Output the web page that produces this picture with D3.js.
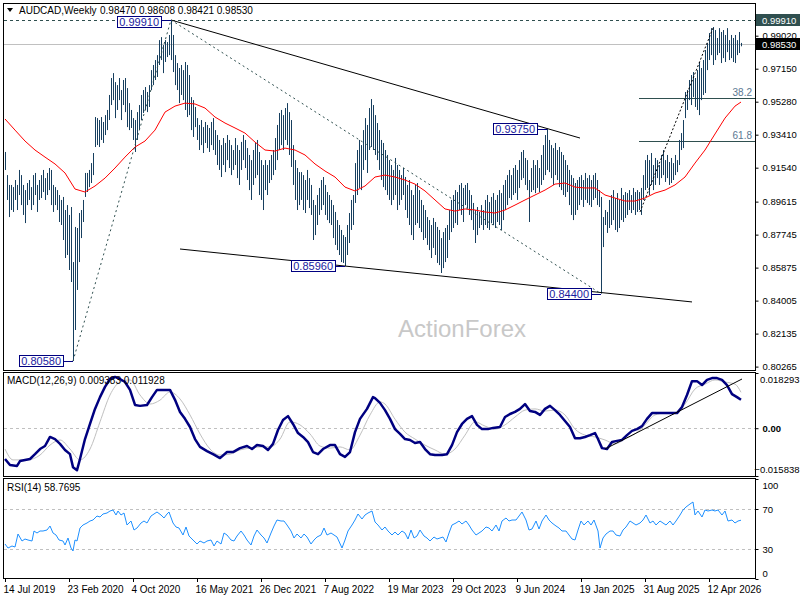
<!DOCTYPE html>
<html>
<head>
<meta charset="utf-8">
<script src="https://cdn.jsdelivr.net/npm/d3@7"></script>
<style>
body { margin: 0; background: #fff; }
svg text { font-family: "Liberation Sans", Arial, sans-serif; }
</style>
</head>
<body>
<script>
// weekly bars, week 0 = 14 Jul 2019
var barHigh = [
  0.9243,0.9112,0.9056,0.9056,0.9044,0.9084,0.9056,0.9141,0.9112,0.9056,
  0.9027,0.9067,0.9084,0.9044,0.9112,0.9124,0.9056,0.9084,0.9112,0.9141,
  0.9095,0.9124,0.9152,0.9141,0.9056,0.9044,0.9027,0.8999,0.8971,0.8988,
  0.8914,0.8942,0.8886,0.8931,0.8619,0.8818,0.8812,0.8897,0.8914,0.8971,
  0.9124,0.9124,0.9141,0.9180,0.9237,0.9441,0.9435,0.9424,0.9441,0.9413,
  0.9452,0.9481,0.9566,0.9662,0.9690,0.9639,0.9622,0.9662,0.9594,0.9651,
  0.9662,0.9605,0.9520,0.9481,0.9435,0.9424,0.9469,0.9509,0.9566,0.9594,
  0.9611,0.9583,0.9622,0.9707,0.9736,0.9764,0.9792,0.9877,0.9894,0.9849,
  0.9877,0.9866,0.9906,0.9991,0.9906,0.9792,0.9747,0.9719,0.9736,0.9707,
  0.9753,0.9736,0.9679,0.9554,0.9537,0.9498,0.9435,0.9396,0.9424,0.9384,
  0.9413,0.9396,0.9379,0.9413,0.9435,0.9367,0.9339,0.9311,0.9282,0.9322,
  0.9294,0.9339,0.9311,0.9282,0.9254,0.9322,0.9282,0.9254,0.9300,0.9339,
  0.9311,0.9265,0.9226,0.9197,0.9254,0.9294,0.9311,0.9243,0.9197,0.9169,
  0.9197,0.9169,0.9197,0.9226,0.9254,0.9322,0.9396,0.9464,0.9481,0.9452,
  0.9492,0.9520,0.9469,0.9424,0.9282,0.9197,0.9152,0.9129,0.9129,0.9112,
  0.9084,0.9141,0.9095,0.9056,0.8971,0.8942,0.8999,0.9039,0.9084,0.9101,
  0.9056,0.9016,0.8999,0.8971,0.8942,0.8903,0.8857,0.8829,0.8801,0.8772,
  0.8761,0.8829,0.8897,0.8971,0.8999,0.9180,0.9254,0.9311,0.9282,0.9367,
  0.9435,0.9396,0.9492,0.9543,0.9509,0.9452,0.9407,0.9367,0.9311,0.9294,
  0.9254,0.9226,0.9197,0.9169,0.9141,0.9209,0.9169,0.9141,0.9112,0.9152,
  0.9101,0.9056,0.9084,0.9027,0.8999,0.9056,0.9067,0.9027,0.8971,0.8942,
  0.8914,0.8874,0.8857,0.8829,0.8869,0.8846,0.8818,0.8801,0.8755,0.8789,
  0.8812,0.8829,0.8914,0.8971,0.8999,0.9027,0.9016,0.9056,0.9067,0.9039,
  0.9056,0.9067,0.9027,0.8999,0.8954,0.8914,0.8931,0.8903,0.8942,0.8914,
  0.8971,0.8999,0.8959,0.8988,0.9010,0.8971,0.8999,0.9027,0.9010,0.9056,
  0.9084,0.9112,0.9141,0.9112,0.9152,0.9169,0.9141,0.9197,0.9243,0.9254,
  0.9209,0.9197,0.9084,0.9152,0.9197,0.9169,0.9197,0.9152,0.9226,0.9282,
  0.9339,0.9375,0.9311,0.9282,0.9265,0.9294,0.9254,0.9271,0.9243,0.9226,
  0.9197,0.9169,0.9141,0.9112,0.9095,0.9067,0.9084,0.9101,0.9112,0.9084,
  0.9124,0.9095,0.9112,0.9084,0.9112,0.9124,0.9084,0.9027,0.8988,0.8874,
  0.8914,0.8903,0.8971,0.8999,0.9027,0.8982,0.9010,0.8971,0.9039,0.8999,
  0.9016,0.9010,0.9027,0.8999,0.9039,0.9016,0.9027,0.9016,0.9039,0.9112,
  0.9197,0.9226,0.9197,0.9237,0.9169,0.9209,0.9197,0.9169,0.9226,0.9254,
  0.9197,0.9226,0.9186,0.9209,0.9180,0.9226,0.9197,0.9311,0.9350,0.9424,
  0.9583,0.9594,0.9651,0.9679,0.9696,0.9662,0.9707,0.9753,0.9719,0.9764,
  0.9821,0.9860,0.9917,0.9945,0.9951,0.9934,0.9889,0.9945,0.9923,0.9934,
  0.9906,0.9945,0.9877,0.9906,0.9889,0.9906,0.9877,0.9923,0.9861
];
var barLow = [
  0.9141,0.8971,0.8874,0.8914,0.8903,0.8971,0.8914,0.8999,0.8942,0.8886,
  0.8840,0.8942,0.8971,0.8914,0.8942,0.8999,0.8903,0.8971,0.8982,0.9016,
  0.8971,0.8999,0.9027,0.8942,0.8903,0.8942,0.8914,0.8846,0.8829,0.8744,
  0.8642,0.8659,0.8574,0.8506,0.8058,0.8234,0.8461,0.8619,0.8755,0.8846,
  0.8988,0.9016,0.9044,0.9067,0.9112,0.9271,0.9282,0.9271,0.9311,0.9294,
  0.9339,0.9367,0.9424,0.9509,0.9537,0.9435,0.9481,0.9537,0.9424,0.9509,
  0.9469,0.9384,0.9367,0.9379,0.9311,0.9243,0.9311,0.9367,0.9424,0.9464,
  0.9481,0.9469,0.9498,0.9594,0.9622,0.9651,0.9668,0.9736,0.9764,0.9690,
  0.9753,0.9781,0.9792,0.9764,0.9696,0.9622,0.9594,0.9520,0.9566,0.9537,
  0.9481,0.9441,0.9452,0.9367,0.9328,0.9384,0.9311,0.9254,0.9282,0.9237,
  0.9294,0.9265,0.9243,0.9282,0.9254,0.9226,0.9169,0.9141,0.9101,0.9169,
  0.9129,0.9197,0.9152,0.9112,0.9141,0.9169,0.9095,0.9056,0.9141,0.9197,
  0.9152,0.9084,0.9027,0.8971,0.9056,0.9095,0.9112,0.8999,0.8971,0.8914,
  0.9027,0.8999,0.9067,0.9084,0.9112,0.9141,0.9197,0.9254,0.9282,0.9254,
  0.9311,0.9282,0.9226,0.9158,0.9056,0.8971,0.8914,0.8942,0.8971,0.8914,
  0.8897,0.8971,0.8925,0.8886,0.8744,0.8772,0.8829,0.8886,0.8914,0.8942,
  0.8886,0.8857,0.8840,0.8829,0.8755,0.8716,0.8687,0.8659,0.8619,0.8614,
  0.8596,0.8659,0.8727,0.8801,0.8829,0.8954,0.8999,0.9039,0.9027,0.9141,
  0.9197,0.9124,0.9254,0.9271,0.9254,0.9226,0.9197,0.9141,0.9084,0.9044,
  0.9027,0.8999,0.8971,0.8942,0.8971,0.8999,0.8914,0.8942,0.8971,0.8999,
  0.8914,0.8869,0.8829,0.8772,0.8744,0.8829,0.8840,0.8812,0.8789,0.8744,
  0.8755,0.8716,0.8687,0.8642,0.8699,0.8659,0.8614,0.8602,0.8557,0.8585,
  0.8619,0.8642,0.8744,0.8789,0.8812,0.8840,0.8829,0.8914,0.8886,0.8846,
  0.8942,0.8925,0.8886,0.8857,0.8801,0.8727,0.8772,0.8812,0.8829,0.8801,
  0.8829,0.8812,0.8801,0.8840,0.8829,0.8812,0.8846,0.8829,0.8801,0.8857,
  0.8914,0.8942,0.8982,0.8971,0.8999,0.9010,0.8971,0.9039,0.9084,0.9095,
  0.9056,0.9027,0.8846,0.9016,0.9027,0.9010,0.9039,0.9016,0.9056,0.9084,
  0.9112,0.9141,0.9129,0.9095,0.9056,0.9112,0.9084,0.9044,0.9027,0.8999,
  0.8988,0.9016,0.8942,0.8886,0.8857,0.8886,0.8914,0.8942,0.8971,0.8931,
  0.8971,0.8954,0.8942,0.8931,0.8971,0.8982,0.8942,0.8931,0.8440,0.8704,
  0.8829,0.8784,0.8812,0.8829,0.8857,0.8801,0.8789,0.8812,0.8857,0.8846,
  0.8869,0.8886,0.8914,0.8897,0.8914,0.8886,0.8903,0.8914,0.8886,0.8971,
  0.9027,0.9039,0.8999,0.9056,0.9027,0.9056,0.9095,0.9056,0.9095,0.9112,
  0.9073,0.9095,0.9056,0.9067,0.9084,0.9112,0.9129,0.9169,0.9254,0.9265,
  0.9435,0.9481,0.9537,0.9509,0.9554,0.9498,0.9481,0.9452,0.9537,0.9566,
  0.9577,0.9707,0.9764,0.9792,0.9736,0.9764,0.9792,0.9804,0.9747,0.9775,
  0.9753,0.9809,0.9764,0.9775,0.9753,0.9747,0.9792,0.9804,0.9842
];

// red moving average, [week, price]
var maLine = [
  [0,0.9430],[5,0.9367],[10,0.9305],[15,0.9254],[20,0.9214],[25,0.9175],[30,0.9124],[35,0.9033],
  [40,0.9016],[45,0.9050],[50,0.9095],[55,0.9152],[60,0.9214],[65,0.9271],[70,0.9305],[75,0.9367],
  [80,0.9469],[85,0.9503],[90,0.9520],[95,0.9515],[100,0.9492],[105,0.9441],[110,0.9407],[115,0.9379],
  [120,0.9350],[125,0.9299],[130,0.9254],[135,0.9248],[140,0.9265],[145,0.9254],[150,0.9226],[155,0.9175],
  [160,0.9135],[165,0.9101],[170,0.9044],[175,0.9022],[180,0.9050],[185,0.9101],[190,0.9112],[195,0.9101],
  [200,0.9084],[205,0.9061],[210,0.9022],[215,0.8971],[220,0.8920],[225,0.8908],[230,0.8920],[235,0.8914],
  [240,0.8903],[245,0.8897],[250,0.8914],[255,0.8942],[260,0.8971],[265,0.8999],[270,0.9027],[275,0.9061],
  [280,0.9067],[285,0.9044],[290,0.9039],[295,0.9039],[300,0.8999],[305,0.8982],[310,0.8965],[315,0.8965],
  [320,0.8982],[325,0.9010],[330,0.9027],[335,0.9056],[340,0.9101],[345,0.9180],[350,0.9254],[355,0.9345],
  [360,0.9435],[365,0.9503],[368,0.9526]
];

var macdLine = [
  [0,-0.0102],[2.5,-0.0122],[6,-0.0125],[7.5,-0.0109],[12.5,-0.0102],[15,-0.0086],[17.5,-0.0069],[20,-0.0059],
  [22.5,-0.0029],[25,-0.0036],[27.5,-0.0052],[30,-0.0072],[32.5,-0.0086],[34,-0.0129],[36,-0.0139],[37.5,-0.0102],
  [40,-0.0036],[42.5,0.0014],[45,0.0064],[47.5,0.0103],[50,0.0137],[52.5,0.0163],[55,0.0170],[57.5,0.0163],
  [60,0.0153],[62.5,0.0127],[65,0.0077],[67.5,0.0074],[71,0.0077],[73.5,0.0103],[76,0.0127],[79,0.0127],
  [82.5,0.0127],[85,0.0094],[87.5,0.0054],[90,0.0031],[92.5,0.0004],[95,-0.0036],[97.5,-0.0062],[101,-0.0076],
  [104,-0.0086],[107.5,-0.0099],[111,-0.0079],[114,-0.0079],[117.5,-0.0066],[121,-0.0059],[123.5,-0.0069],[126,-0.0056],
  [129,-0.0059],[131.5,-0.0072],[134,-0.0052],[136.5,-0.0006],[139,0.0027],[141.5,0.0040],[144,0.0014],[146.5,-0.0016],
  [149,-0.0029],[151.5,-0.0046],[154,-0.0079],[156.5,-0.0086],[159,-0.0069],[162.5,-0.0056],[165,-0.0056],[167.5,-0.0086],
  [170,-0.0095],[172.5,-0.0079],[175,-0.0013],[177.5,0.0031],[181,0.0064],[184,0.0103],[185,0.0100],[187.5,0.0084],
  [190,0.0060],[192.5,0.0031],[195,-0.0003],[197.5,-0.0019],[200,-0.0036],[202.5,-0.0039],[205,-0.0049],[207.5,-0.0046],
  [210,-0.0069],[212.5,-0.0086],[215,-0.0089],[218.5,-0.0089],[221,-0.0086],[223.5,-0.0056],[226,-0.0013],[228.5,0.0014],
  [231,0.0031],[233.5,0.0040],[236,0.0011],[238.5,-0.0003],[241.5,-0.0003],[244,0.0001],[247.5,0.0004],[250,0.0037],
  [252.5,0.0047],[255,0.0054],[257.5,0.0064],[260,0.0080],[262.5,0.0057],[265,0.0054],[267.5,0.0044],[270,0.0064],
  [272.5,0.0074],[275,0.0060],[277.5,0.0044],[280,0.0024],[282.5,0.0004],[285,-0.0033],[287.5,-0.0033],[290,-0.0029],
  [292.5,-0.0023],[295,-0.0016],[296.5,-0.0036],[298.5,-0.0066],[301,-0.0069],[303.5,-0.0046],[306,-0.0042],[308.5,-0.0039],
  [311,-0.0023],[313.5,-0.0009],[316,-0.0003],[318.5,0.0007],[321,0.0031],[323.5,0.0050],[326.5,0.0050],[330,0.0050],
  [333.5,0.0050],[336,0.0050],[338.5,0.0070],[341,0.0110],[343.5,0.0156],[346,0.0156],[348.5,0.0143],[351,0.0160],
  [353.5,0.0166],[356,0.0166],[358.5,0.0160],[361,0.0143],[363.5,0.0113],[366,0.0103],[368,0.0094]
];
var signalLine = [
  [0,-0.0069],[4,-0.0105],[11,-0.0105],[17.5,-0.0089],[22.5,-0.0056],[27.5,-0.0039],[32.5,-0.0069],[37.5,-0.0105],
  [42.5,-0.0069],[47.5,0.0021],[52.5,0.0110],[57.5,0.0153],[62.5,0.0160],[67.5,0.0110],[72.5,0.0080],[77.5,0.0093],
  [82.5,0.0120],[87.5,0.0097],[92.5,0.0044],[97.5,-0.0019],[102.5,-0.0069],[107.5,-0.0089],[112.5,-0.0086],[117.5,-0.0072],
  [122.5,-0.0066],[127.5,-0.0062],[132.5,-0.0062],[137.5,-0.0036],[142.5,0.0021],[147.5,0.0011],[152.5,-0.0019],[157.5,-0.0059],
  [162.5,-0.0066],[167.5,-0.0062],[172.5,-0.0072],[177.5,-0.0023],[182.5,0.0044],[187.5,0.0087],[190,0.0080],[195,0.0030],
  [200,-0.0013],[205,-0.0036],[210,-0.0056],[215,-0.0072],[220,-0.0086],[225,-0.0069],[230,-0.0023],[235,0.0021],
  [240,0.0007],[245,-0.0003],[250,0.0011],[255,0.0037],[260,0.0060],[265,0.0064],[270,0.0057],[275,0.0060],
  [280,0.0044],[285,-0.0003],[290,-0.0023],[295,-0.0029],[300,-0.0039],[305,-0.0052],[310,-0.0036],[315,-0.0019],
  [320,0.0011],[325,0.0044],[330,0.0050],[335,0.0050],[340,0.0080],[345,0.0130],[350,0.0146],[355,0.0160],
  [360,0.0153],[365,0.0146],[368,0.0119]
];

var rsiLine = [
  [0,35],[1.5,31],[3.5,33],[5,32],[6.5,45],[8.5,38],[10,40],[11.5,39],[13.5,38],[14.5,48],[16,46],[17.5,48],
  [19,48],[21,49],[22.5,53],[24,46],[25.5,44],[27,39],[29,38],[30,34],[31.5,41],[33,31],[34,28],[35,39],
  [36,38],[37.5,51],[39,54],[41,56],[42.5,58],[44,59],[46,63],[47.5,62],[49,65],[51,66],[52.5,68],[54,69],
  [55.5,64],[56.5,68],[58,64],[59.5,66],[61,54],[63,58],[64.5,49],[66,51],[68,56],[69.5,58],[71,56],[73,63],
  [74.5,65],[76,67],[78,64],[79.5,61],[81,65],[82,67],[84,56],[85.5,52],[87,51],[89,44],[90.5,52],[92,43],
  [94,39],[96,35],[97.5,38],[99.5,36],[101,38],[103,39],[104.5,33],[106,38],[108,35],[109.5,46],[111,44],[113,39],
  [114.5,38],[116,43],[118,48],[119.5,44],[121,39],[123,34],[124.5,43],[126,49],[128,44],[129.5,41],[131,36],[133,46],
  [134.5,53],[136,59],[138,58],[139.5,58],[141,54],[143,48],[144.5,41],[146,45],[148,41],[149.5,45],[151,42],[153,35],
  [154.5,39],[156,42],[158,44],[159.5,51],[161,44],[163,46],[164.5,44],[166,42],[168.5,31],[170,39],[171.5,48],[173.5,54],
  [175,59],[176.5,65],[178.5,60],[180,64],[181.5,66],[183.5,68],[185,57],[186.5,54],[188.5,49],[190,52],[191.5,48],[193.5,44],
  [195,47],[196.5,44],[198.5,48],[200,46],[201.5,40],[203,49],[204.5,41],[206,43],[207.5,49],[209.5,43],[211,41],[212.5,38],
  [214.5,42],[216,40],[217.5,41],[219,42],[220.5,37],[222,46],[223.5,54],[225.5,56],[227,58],[228.5,55],[230.5,58],[232,54],
  [233.5,49],[235.5,44],[237,46],[238.5,48],[240.5,52],[242,51],[243.5,48],[245.5,54],[247,48],[248.5,58],[250.5,61],[252,58],
  [253.5,59],[255.5,59],[257,63],[258.5,67],[260.5,59],[262,49],[263.5,50],[265.5,58],[267,50],[268.5,58],[270.5,64],[272,59],
  [273.5,56],[275.5,53],[277,51],[278.5,48],[280.5,48],[282,44],[283.5,40],[285,39],[286.5,49],[288,58],[289.5,54],[291.5,58],
  [293,54],[294.5,59],[296.5,48],[297.5,31],[299,41],[300.5,45],[302.5,48],[304,48],[305.5,44],[307.5,43],[309,49],[310.5,52],
  [312.5,58],[314,56],[315.5,54],[317.5,56],[319,59],[320.5,64],[322.5,56],[324,58],[325.5,54],[327.5,58],[329,56],[330.5,54],
  [332.5,58],[334,54],[335.5,58],[337.5,64],[339,69],[340.5,72],[342.5,75],[344,77],[345,64],[346.5,68],[348.5,62],[350,69],
  [351.5,68],[353.5,69],[355,68],[356.5,69],[358.5,64],[360,68],[361.5,58],[363.5,59],[365,56],[366.5,58],[368,58.77]
];

// axis ticks and labels
var priceTicks = [0.99020, 0.97150, 0.95280, 0.93410, 0.91540, 0.89615, 0.87745, 0.85875, 0.84005, 0.82135, 0.80265];
var macdTicks = [0.018293, 0, -0.015838];
var rsiTicks = [100, 70, 30, 0];
var rsiLevels = [70, 30];
var dateWeeks = [0, 32, 64, 96, 128, 160, 192, 224, 256, 288, 320, 352];
var dateLabels = ["14 Jul 2019", "23 Feb 2020", "4 Oct 2020", "16 May 2021", "26 Dec 2021", "7 Aug 2022",
                  "19 Mar 2023", "29 Oct 2023", "9 Jun 2024", "19 Jan 2025", "31 Aug 2025", "12 Apr 2026"];

// annotations
var markWeeks = [83, 34, 170, 271, 298];
var markPrices = [0.9991, 0.8058, 0.8596, 0.9375, 0.8440];
var markTexts = ["0.99910", "0.80580", "0.85960", "0.93750", "0.84400"];
var solidTrends = [[[83, 0.9991], [287.5, 0.9322]], [[87.5, 0.8693], [343.5, 0.8393]]];
var dottedTrends = [[[34, 0.8058], [83, 0.9991]], [[83, 0.9991], [298, 0.8440]]];
var fibSwing = [[317.5, 0.8903], [354, 0.9945]];
var fibStartWeek = 317;
var fibLabels = ["38.2", "61.8"];
var fibPrices = [0.9550, 0.9303];
var macdTrend = [[300, -0.0069], [368.5, 0.0163]];
var highPrice = 0.99910, lastPrice = 0.98530;
var ohlcText = "0.98470 0.98608 0.98421 0.98530";

const FONT = '"Liberation Sans", Arial, sans-serif';
const RIGHT = 755;
const AX_FS = 9.5;

var svg = d3.select("body").append("svg")
    .attr("width", 800).attr("height", 600);
svg.append("rect").attr("width", 800).attr("height", 600).attr("fill", "#fff");

// scales
var x = d3.scaleLinear().domain([0, 368]).range([5, 741]);
var y = d3.scaleLinear().domain([0.80265, 0.99910]).range([366.6, 20]);
var yMacd = d3.scaleLinear().domain([-0.015838, 0.018293]).range([476, 373]);
var yRsi = d3.scaleLinear().domain([0, 100]).range([579, 479]);

// panel clips
var defs = svg.append("defs");
[["clipMain", 4, 370], ["clipMacd", 373, 476], ["clipRsi", 479, 578]].forEach(c => {
  defs.append("clipPath").attr("id", c[0]).append("rect")
    .attr("x", 4).attr("y", c[1]).attr("width", RIGHT - 4).attr("height", c[2] - c[1]);
});

var main = svg.append("g").attr("clip-path", "url(#clipMain)");

// horizontal price lines
main.append("line")
  .attr("x1", 4).attr("x2", RIGHT).attr("y1", Math.round(y(lastPrice)) + 0.5).attr("y2", Math.round(y(lastPrice)) + 0.5)
  .attr("stroke", "#c0c0c0");
main.append("line")
  .attr("x1", 4).attr("x2", RIGHT).attr("y1", Math.round(y(highPrice)) + 0.5).attr("y2", Math.round(y(highPrice)) + 0.5)
  .attr("stroke", "#2f4f4f").attr("stroke-dasharray", "3,3");

// fib levels
fibPrices.forEach((p, i) => {
  var yy = Math.round(y(p)) + 0.5;
  main.append("line").attr("x1", x(fibStartWeek)).attr("x2", RIGHT).attr("y1", yy).attr("y2", yy)
    .attr("stroke", "#2f4f4f");
  main.append("text").attr("x", 752).attr("y", yy - 3).attr("text-anchor", "end")
    .attr("font-size", 10).attr("fill", "#5a7792").text(fibLabels[i]);
});

// watermark
main.append("text").attr("x", 398).attr("y", 337).attr("font-size", 24)
  .attr("fill", "#c8c8c8").attr("font-family", FONT).text("ActionForex");

// bars
main.append("g").selectAll("line").data(barHigh).enter().append("line")
  .attr("x1", (d, i) => Math.round(x(i)) + 0.5)
  .attr("x2", (d, i) => Math.round(x(i)) + 0.5)
  .attr("y1", d => y(d))
  .attr("y2", (d, i) => y(barLow[i]))
  .attr("stroke", "#173f5f").attr("stroke-width", 1);

// moving average
main.append("path").datum(maLine)
  .attr("d", d3.line().x(d => x(d[0])).y(d => y(d[1])))
  .attr("fill", "none").attr("stroke", "#ff0000").attr("stroke-width", 1);

// trend lines
var tl = d3.line().x(d => x(d[0])).y(d => y(d[1]));
solidTrends.forEach(t => {
  main.append("path").datum(t).attr("d", tl).attr("stroke", "#000").attr("stroke-width", 1).attr("fill", "none");
});
dottedTrends.forEach(t => {
  main.append("path").datum(t).attr("d", tl).attr("stroke", "#2f4f4f").attr("stroke-width", 1)
    .attr("stroke-dasharray", "2,3").attr("fill", "none");
});
main.append("path").datum(fibSwing).attr("d", tl).attr("stroke", "#000").attr("stroke-width", 1)
  .attr("stroke-dasharray", "2,2").attr("fill", "none");

// price labels on swing points
markWeeks.forEach((w, i) => {
  var bx = x(w), by = y(markPrices[i]);
  var cy = Math.max(by, 22);      // keep the top label clear of the header
  var g = main.append("g");
  var t = g.append("text").attr("font-size", 11).attr("fill", "#1a1aa0")
    .attr("text-anchor", "end").attr("x", bx - 12).attr("y", cy + 4).text(markTexts[i]);
  var wdt = t.node().getComputedTextLength();
  g.insert("rect", "text").attr("x", Math.round(bx - 14 - wdt) + 0.5).attr("y", Math.round(cy - 6) + 0.5)
    .attr("width", Math.round(wdt + 4)).attr("height", 11)
    .attr("fill", "#fff").attr("stroke", "#000080");
  g.append("line").attr("x1", bx - 10).attr("x2", bx).attr("y1", Math.round(by) + 0.5).attr("y2", Math.round(by) + 0.5)
    .attr("stroke", "#000080");
});

// MACD panel
var mp = svg.append("g").attr("clip-path", "url(#clipMacd)");
mp.append("line").attr("x1", 4).attr("x2", RIGHT).attr("y1", Math.round(yMacd(0)) + 0.5).attr("y2", Math.round(yMacd(0)) + 0.5)
  .attr("stroke", "#c0c0c0").attr("stroke-dasharray", "3,3");
mp.append("path").datum(signalLine)
  .attr("d", d3.line().curve(d3.curveMonotoneX).x(d => x(d[0])).y(d => yMacd(d[1])))
  .attr("fill", "none").attr("stroke", "#c0c0c0").attr("stroke-width", 1);
mp.append("path").datum(macdLine)
  .attr("d", d3.line().x(d => x(d[0])).y(d => yMacd(d[1])))
  .attr("fill", "none").attr("stroke", "#000080").attr("stroke-width", 2.5).attr("stroke-linejoin", "round");
mp.append("path").datum(macdTrend)
  .attr("d", d3.line().x(d => x(d[0])).y(d => yMacd(d[1])))
  .attr("stroke", "#000").attr("stroke-width", 1);

// RSI panel
var rp = svg.append("g").attr("clip-path", "url(#clipRsi)");
rsiLevels.forEach(v => {
  rp.append("line").attr("x1", 4).attr("x2", RIGHT).attr("y1", Math.round(yRsi(v)) + 0.5).attr("y2", Math.round(yRsi(v)) + 0.5)
    .attr("stroke", "#c0c0c0").attr("stroke-dasharray", "3,3");
});
rp.append("path").datum(rsiLine)
  .attr("d", d3.line().x(d => x(d[0])).y(d => yRsi(d[1])))
  .attr("fill", "none").attr("stroke", "#1e90ff").attr("stroke-width", 1);

// frames
[[3.5, 370.5], [372.5, 476.5], [478.5, 578.5]].forEach(f => {
  svg.append("rect").attr("x", 3.5).attr("y", f[0]).attr("width", RIGHT - 3).attr("height", f[1] - f[0])
    .attr("fill", "none").attr("stroke", "#000");
});

// right axes
function styleAxis(g) {
  g.select(".domain").remove();
  g.attr("font-family", FONT).attr("font-size", AX_FS);
  g.selectAll(".tick line").attr("stroke", "#000");
  g.selectAll(".tick text").attr("fill", "#000");
}
svg.append("g").attr("transform", `translate(${RIGHT + 0.5},0)`)
  .call(d3.axisRight(y).tickValues(priceTicks).tickSize(3).tickPadding(4).tickFormat(d3.format(".5f")))
  .call(styleAxis);

svg.append("g").attr("transform", `translate(${RIGHT + 0.5},0)`)
  .call(d3.axisRight(yMacd).tickValues(macdTicks).tickSize(3).tickPadding(4)
        .tickFormat(d => d === 0 ? "0.00" : d3.format(".6f")(d)))
  .call(styleAxis)
  .call(g => g.selectAll(".tick text")
    .attr("dy", d => d > 0 ? "1.05em" : d < 0 ? "-0.35em" : "0.32em")
    .attr("text-anchor", d => d === 0 ? "start" : "end")
    .attr("x", d => d === 0 ? 7 : 44)
    .attr("font-weight", d => d === 0 ? "bold" : null));

svg.append("g").attr("transform", `translate(${RIGHT + 0.5},0)`)
  .call(d3.axisRight(yRsi).tickValues(rsiTicks).tickSize(3).tickPadding(4))
  .call(styleAxis)
  .call(g => g.selectAll(".tick text").attr("dy", d => d === 100 ? "0.95em" : d === 0 ? "-0.3em" : "0.32em"));

// highlighted right labels
[[highPrice, "#2f4f4f"], [lastPrice, "#000"]].forEach(h => {
  var yy = y(h[0]);
  svg.append("rect").attr("x", 756).attr("y", Math.round(yy - 6)).attr("width", 44).attr("height", 12)
    .attr("fill", h[1]);
  svg.append("text").attr("x", 762).attr("y", yy + 3.5).attr("font-size", AX_FS).attr("fill", "#fff")
    .text(d3.format(".5f")(h[0]));
});

// date axis
svg.append("g").attr("transform", "translate(0,579)")
  .call(d3.axisBottom(x).tickValues(dateWeeks).tickSize(3).tickPadding(4).tickFormat((d, i) => dateLabels[i]))
  .call(styleAxis)
  .call(g => g.selectAll(".tick text").attr("text-anchor", "start").attr("x", -2).attr("font-size", 10));

// headers
svg.append("path").attr("d", "M7,8 L13,8 L10,12 Z").attr("fill", "#000");
svg.append("text").attr("x", 19).attr("y", 14).attr("font-size", 10).text("AUDCAD,Weekly");
svg.append("text").attr("x", 100).attr("y", 14).attr("font-size", 10).text(ohlcText);
svg.append("text").attr("x", 7).attr("y", 384).attr("font-size", 10)
  .text("MACD(12,26,9) 0.009383 0.011928");
svg.append("text").attr("x", 7).attr("y", 491).attr("font-size", 10).text("RSI(14) 58.7695");
</script>
</body>
</html>
